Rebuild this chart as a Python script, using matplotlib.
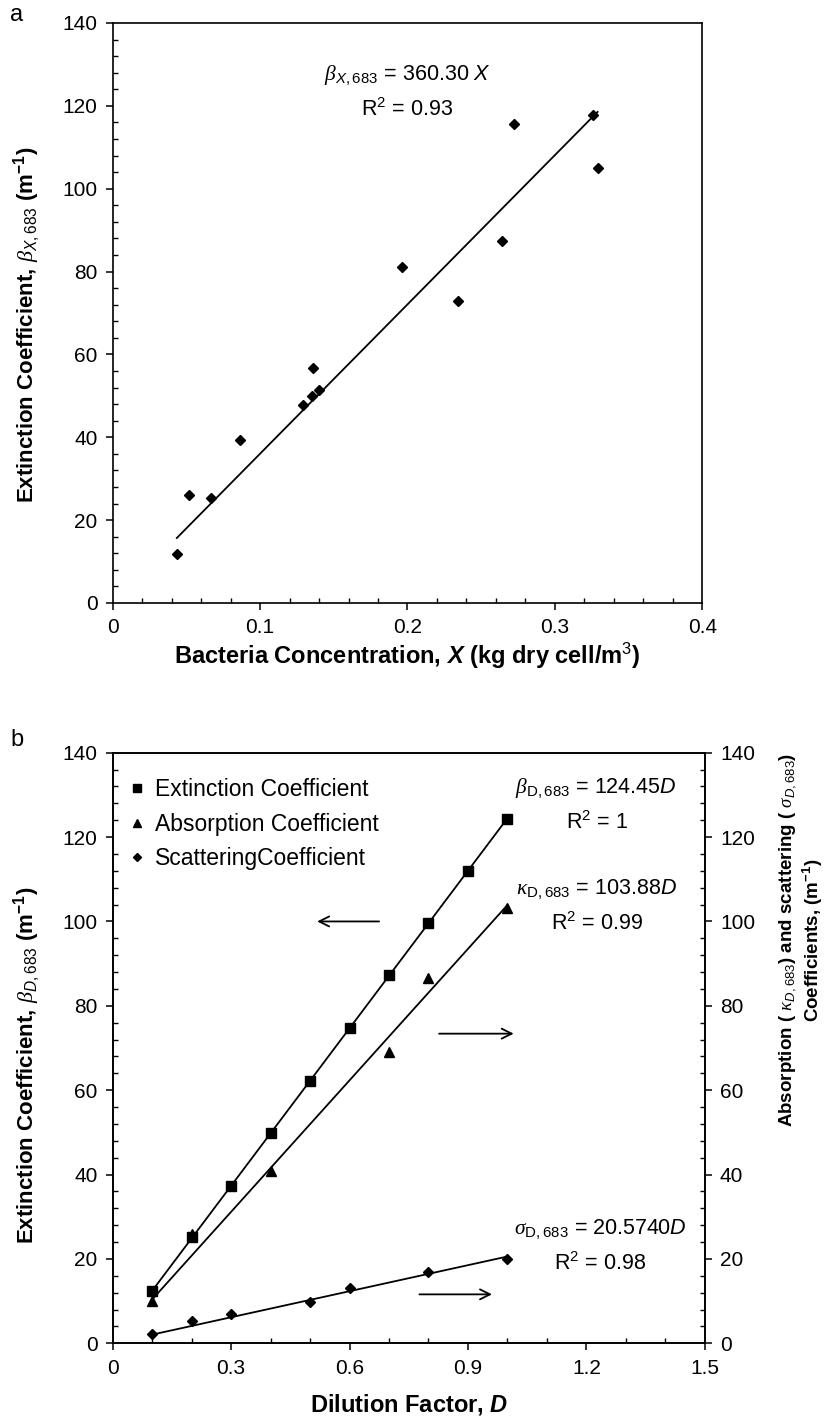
import matplotlib
matplotlib.use('Agg')
import matplotlib.pyplot as plt
from matplotlib.ticker import MultipleLocator, FuncFormatter
import numpy as np

plt.rcParams['font.family'] = ['Liberation Sans', 'DejaVu Sans']
plt.rcParams['mathtext.fontset'] = 'custom'
plt.rcParams['mathtext.rm'] = 'Liberation Sans'
plt.rcParams['mathtext.it'] = 'Liberation Sans:italic'
plt.rcParams['mathtext.bf'] = 'Liberation Sans:bold'
plt.rcParams['mathtext.bfit'] = 'Liberation Sans:italic:bold'
plt.rcParams['mathtext.sf'] = 'Liberation Serif:italic'

# ---------------- data ----------------
# panel a
conc_x = [0.0435, 0.0519, 0.0664, 0.0866, 0.1288, 0.135, 0.136, 0.140,
          0.196, 0.234, 0.264, 0.272, 0.326, 0.329]
beta_x = [11.7, 26.0, 25.4, 39.4, 47.7, 49.9, 56.6, 51.5,
          81.1, 72.9, 87.3, 115.5, 117.7, 104.9]
slope_x = 360.30
r2_x = 0.93

# panel b
dil_ext = [0.1, 0.2, 0.3, 0.4, 0.5, 0.6, 0.7, 0.8, 0.9, 1.0]
ext = [12.5, 25.2, 37.2, 49.8, 62.2, 74.8, 87.3, 99.6, 112.0, 124.4]
dil_abs = [0.1, 0.2, 0.4, 0.7, 0.8, 1.0]
absorp = [10.0, 25.8, 40.9, 69.1, 86.6, 103.1]
dil_sca = [0.1, 0.2, 0.3, 0.5, 0.6, 0.8, 1.0]
scat = [2.1, 5.2, 6.9, 9.8, 13.1, 16.8, 20.1]
slope_ext, r2_ext = 124.45, 1
slope_abs, r2_abs = 103.88, 0.99
slope_sca, r2_sca = 20.5740, 0.98

legend_labels = ['Extinction Coefficient', 'Absorption Coefficient', 'ScatteringCoefficient']

# ---------------- style ----------------
TICK_FS = 15
XLABEL_FS = 17
YLABEL_FS = 16
ANN_FS = 15.5
LW = 1.3
fmt = FuncFormatter(lambda v, _: f"{v:g}")


def style_axis(ax, xmaj, xmin, xmax):
    ax.set_xlim(0, xmax)
    ax.set_ylim(0, 140)
    ax.xaxis.set_major_locator(MultipleLocator(xmaj))
    ax.xaxis.set_minor_locator(MultipleLocator(xmin))
    ax.yaxis.set_major_locator(MultipleLocator(20))
    ax.yaxis.set_minor_locator(MultipleLocator(4))
    ax.xaxis.set_major_formatter(fmt)
    ax.yaxis.set_major_formatter(fmt)
    ax.tick_params(which='major', direction='out', length=5, width=1.1,
                   labelsize=TICK_FS, pad=6)
    ax.tick_params(which='minor', direction='in', length=3.4, width=1.0)
    for s in ax.spines.values():
        s.set_linewidth(1.2)


fig = plt.figure(figsize=(8.33, 14.19), dpi=100)

# ---------------- panel a ----------------
ax1 = fig.add_axes([0.1353, 0.5751, 0.7077, 0.4087])
style_axis(ax1, 0.1, 0.02, 0.4)
ax1.plot(conc_x, beta_x, 'D', color='black', ms=5.5, zorder=3)
xs = np.array([min(conc_x), max(conc_x)])
ax1.plot(xs, slope_x * xs, '-', color='black', lw=LW)
ax1.text(0.2, 127.3, r"$\mathsf{\beta}_{\mathit{X,683}}$" + f" = {slope_x:.2f} " + r"$X$",
         ha='center', va='center', fontsize=ANN_FS)
ax1.text(0.2, 119.0, r"R$^2$" + f" = {r2_x:.2f}", ha='center', va='center', fontsize=ANN_FS)
ax1.set_xlabel(r"Bacteria Concentration, $\mathbfit{X}$ (kg dry cell/m$^3$)",
               fontsize=XLABEL_FS, fontweight='bold')
ax1.set_ylabel(r"Extinction Coefficient, $\mathsf{\beta}_{\mathit{X,683}}$ (m$^{\mathbf{-1}}$)",
               fontsize=YLABEL_FS, fontweight='bold')
ax1.xaxis.set_label_coords(0.5, -0.066)
ax1.yaxis.set_label_coords(-0.119, 0.48)
fig.text(10 / 833, 1 - 15 / 1419, 'a', fontsize=17, ha='left', va='center')

# ---------------- panel b ----------------
ax2 = fig.add_axes([0.1353, 0.05335, 0.7107, 0.4162])
style_axis(ax2, 0.3, 0.1, 1.5)
ax3 = ax2.twinx()
style_axis(ax3, 0.3, 0.1, 1.5)

h1, = ax2.plot(dil_ext, ext, 's', color='black', ms=6.8, zorder=3)
h2, = ax3.plot(dil_abs, absorp, '^', color='black', ms=7.2, zorder=3)
h3, = ax3.plot(dil_sca, scat, 'D', color='black', ms=4.6, zorder=3)
d = np.array([min(dil_ext), max(dil_ext)])
ax2.plot(d, slope_ext * d, '-', color='black', lw=LW)
d = np.array([min(dil_abs), max(dil_abs)])
ax3.plot(d, slope_abs * d, '-', color='black', lw=LW)
d = np.array([min(dil_sca), max(dil_sca)])
ax3.plot(d, slope_sca * d, '-', color='black', lw=LW)

ax3.text(1.225, 131.5, r"$\mathsf{\beta}_{\mathrm{D,683}}$" + f" = {slope_ext:.2f}" + r"$D$",
         ha='center', va='center', fontsize=ANN_FS)
ax3.text(1.227, 123.5, r"R$^2$" + f" = {r2_ext}", ha='center', va='center', fontsize=ANN_FS)
ax3.text(1.225, 107.6, r"$\mathsf{\kappa}_{\mathrm{D,683}}$" + f" = {slope_abs:.2f}" + r"$D$",
         ha='center', va='center', fontsize=ANN_FS)
ax3.text(1.227, 99.6, r"R$^2$" + f" = {r2_abs:.2f}", ha='center', va='center', fontsize=ANN_FS)
ax3.text(1.235, 27.0, r"$\mathsf{\sigma}_{\mathrm{D,683}}$" + f" = {slope_sca:.4f}" + r"$D$",
         ha='center', va='center', fontsize=ANN_FS)
ax3.text(1.234, 19.0, r"R$^2$" + f" = {r2_sca:.2f}", ha='center', va='center', fontsize=ANN_FS)

arrow = dict(arrowstyle='->', lw=1.3, color='black', mutation_scale=18)
ax3.annotate('', xy=(0.511, 100), xytext=(0.682, 100), arrowprops=arrow)
ax3.annotate('', xy=(1.023, 73.4), xytext=(0.82, 73.4), arrowprops=arrow)
ax3.annotate('', xy=(0.968, 11.6), xytext=(0.77, 11.6), arrowprops=arrow)

leg = ax3.legend([h1, h2, h3], legend_labels, loc='upper left',
                 bbox_to_anchor=(0.010, 0.972), borderaxespad=0, frameon=False,
                 fontsize=16.5, handlelength=0.8, handletextpad=0.4,
                 labelspacing=0.5, borderpad=0.4, markerscale=0.8)

ax2.set_xlabel(r"Dilution Factor, $\mathbfit{D}$", fontsize=XLABEL_FS, fontweight='bold')
ax2.set_ylabel(r"Extinction Coefficient, $\mathsf{\beta}_{\mathit{D,683}}$ (m$^{\mathbf{-1}}$)",
               fontsize=YLABEL_FS, fontweight='bold')
ax2.xaxis.set_label_coords(0.5, -0.083)
ax2.yaxis.set_label_coords(-0.118, 0.47)
fig.text(801 / 833, 1 - 940 / 1419,
         r"Absorption ( $\mathsf{\kappa}_{\mathit{D,683}}$) and scattering ( $\mathsf{\sigma}_{\mathit{D,683}}$)"
         + "\n" + r"Coefficients, (m$^{\mathbf{-1}}$)",
         rotation=90, ha='center', va='center', multialignment='center',
         fontsize=13.5, fontweight='bold', linespacing=1.15)
fig.text(10 / 833, 1 - 740 / 1419, 'b', fontsize=17, ha='left', va='center')

fig.savefig('out.png', dpi=100)
